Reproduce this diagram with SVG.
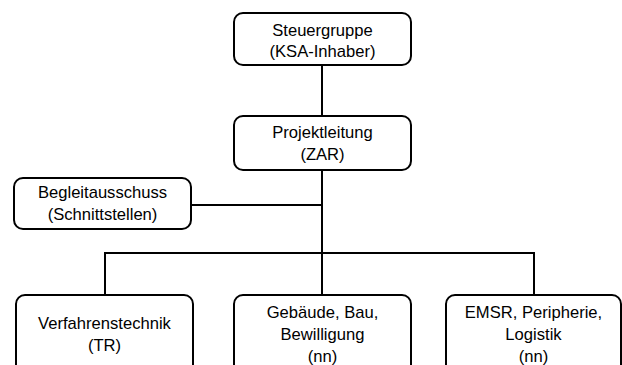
<svg xmlns="http://www.w3.org/2000/svg" width="622" height="365" viewBox="0 0 622 365">
<style>
.box{fill:#fff;stroke:#000;stroke-width:2}
.t{font-family:"Liberation Sans",Arial,sans-serif;font-size:16.6px;fill:#000;text-anchor:middle}
.c{stroke:#000;stroke-width:2;fill:none}
</style>
<rect width="622" height="365" fill="#fff"/>
<g id="connectors">
<line class="c" x1="322" y1="65" x2="322" y2="116"/>
<line class="c" x1="322" y1="170" x2="322" y2="295"/>
<line class="c" x1="191" y1="205" x2="322" y2="205"/>
<line class="c" x1="104" y1="253" x2="535" y2="253"/>
<line class="c" x1="105" y1="253" x2="105" y2="295"/>
<line class="c" x1="534" y1="253" x2="534" y2="295"/>
</g>
<g id="steuergruppe">
<rect class="box" x="234" y="13" width="177" height="52" rx="9"/>
<text class="t" x="322.5" y="36">Steuergruppe</text>
<text class="t" x="322.5" y="57">(KSA-Inhaber)</text>
</g>
<g id="projektleitung">
<rect class="box" x="234" y="116" width="177" height="54" rx="9"/>
<text class="t" x="322.5" y="138">Projektleitung</text>
<text class="t" x="322.5" y="160">(ZAR)</text>
</g>
<g id="begleitausschuss">
<rect class="box" x="14" y="178" width="177" height="51" rx="9"/>
<text class="t" x="102.5" y="198">Begleitausschuss</text>
<text class="t" x="102.5" y="220">(Schnittstellen)</text>
</g>
<g id="verfahrenstechnik">
<rect class="box" x="16" y="295" width="177" height="90" rx="9"/>
<text class="t" x="104.5" y="329">Verfahrenstechnik</text>
<text class="t" x="104.5" y="351">(TR)</text>
</g>
<g id="gebaeude">
<rect class="box" x="234" y="295" width="177" height="90" rx="9"/>
<text class="t" x="322.5" y="318">Gebäude, Bau,</text>
<text class="t" x="322.5" y="340">Bewilligung</text>
<text class="t" x="322.5" y="362">(nn)</text>
</g>
<g id="emsr">
<rect class="box" x="446" y="295" width="175" height="90" rx="9"/>
<text class="t" x="533.5" y="318">EMSR, Peripherie,</text>
<text class="t" x="533.5" y="340">Logistik</text>
<text class="t" x="533.5" y="362">(nn)</text>
</g>
</svg>
